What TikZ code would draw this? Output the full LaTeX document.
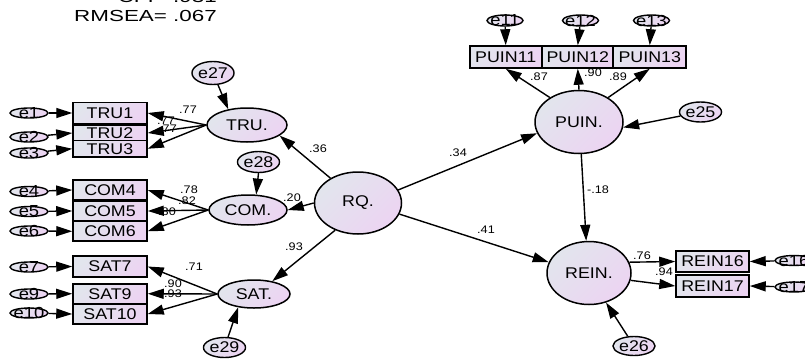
\documentclass[tikz,border=0pt]{standalone}
\usepackage{fontspec}
\setmainfont{Liberation Sans}[FakeStretch=1.15]
\newfontfamily\fitfont{Liberation Sans}[FakeStretch=1.4]
\usetikzlibrary{shapes.geometric,arrows.meta}
\definecolor{shadeA}{RGB}{226,229,237}
\definecolor{shadeB}{RGB}{236,212,242}

\begin{document}
\begin{tikzpicture}[x=1pt,y=-1pt,
  lav/.style={left color=shadeA, right color=shadeB, shading angle=45},
  lat/.style={ellipse, draw, line width=1.5, lav, inner sep=0,
              font=\fontsize{15.5}{17}\selectfont},
  obs/.style={rectangle, draw, line width=1.5, lav, inner sep=0,
              minimum width=74, font=\fontsize{15.5}{17}\selectfont},
  errL/.style={ellipse, draw, line width=1.4, lav, inner sep=0,
              font=\fontsize{15.5}{17}\selectfont},
  errS/.style={ellipse, draw, line width=1.4, lav, inner sep=0,
              minimum width=38, minimum height=10},
  elab/.style={font=\fontsize{16}{18}\selectfont, inner sep=0},
  arr/.style={line width=1.4, -{Triangle[length=16pt,width=10pt]}},
  coef/.style={font=\fontsize{11}{12}\selectfont, inner sep=0},
  idx/.style={font=\fitfont\fontsize{16}{18}\selectfont, inner sep=0, anchor=base east}
]
\useasboundingbox (0,0) rectangle (805,359);
\clip (0,0) rectangle (805,359);

% fit indices
\node[idx] (cfi) at (217,2.5) {CFI= .931};
\node[idx] (rmsea) at (217,21.5) {RMSEA= .067};

% latent variables
\node[lat, minimum width=80, minimum height=34] (TRU) at (247,125) {TRU.};
\node[lat, minimum width=78, minimum height=30] (COM) at (248,210) {COM.};
\node[lat, minimum width=72, minimum height=28] (SAT) at (254,294) {SAT.};
\node[lat, minimum width=87, minimum height=62] (RQ) at (358,203) {RQ.};
\node[lat, minimum width=88, minimum height=63] (PUIN) at (579,122) {PUIN.};
\node[lat, minimum width=84, minimum height=63] (REIN) at (589,273) {REIN.};

% observed indicators
\node[obs, minimum height=21] (t1) at (110,113) {TRU1};
\node[obs, minimum height=16] (t2) at (110,133) {TRU2};
\node[obs, minimum height=16.5] (t3) at (110,148.75) {TRU3};
\node[obs, minimum height=20] (c4) at (110,190) {COM4};
\node[obs, minimum height=19] (c5) at (110,211) {COM5};
\node[obs, minimum height=19.5] (c6) at (110,231.25) {COM6};
\node[obs, minimum height=21] (s7) at (110,266.5) {SAT7};
\node[obs, minimum height=19.5] (s9) at (110,293.75) {SAT9};
\node[obs, minimum height=20] (s10) at (110,314) {SAT10};
\node[obs, minimum width=71.5, minimum height=22] (p11) at (505.75,57) {PUIN11};
\node[obs, minimum width=70.5, minimum height=22] (p12) at (577.75,57) {PUIN12};
\node[obs, minimum width=72.5, minimum height=22] (p13) at (649.75,57) {PUIN13};
\node[obs, minimum width=73, minimum height=21] (r16) at (712.5,261.5) {REIN16};
\node[obs, minimum width=73, minimum height=22] (r17) at (712.5,286) {REIN17};

% measurement errors
\node[errS, label={[elab]center:e1}] (e1) at (29,113) {};
\node[errS, label={[elab]center:e2}] (e2) at (29,137) {};
\node[errS, label={[elab]center:e3}] (e3) at (29,153) {};
\node[errS, label={[elab]center:e4}] (e4) at (29,191.5) {};
\node[errS, label={[elab]center:e5}] (e5) at (29,211.5) {};
\node[errS, label={[elab]center:e6}] (e6) at (29,231) {};
\node[errS, label={[elab]center:e7}] (e7) at (29,267) {};
\node[errS, label={[elab]center:e9}] (e9) at (29,294) {};
\node[errS, label={[elab]center:e10}] (e10) at (29,313) {};
\node[errS, minimum width=36, minimum height=11, label={[elab]center:e11}] (e11) at (505,20.5) {};
\node[errS, minimum width=36, minimum height=11, label={[elab]center:e12}] (e12) at (580.5,20.5) {};
\node[errS, minimum width=36, minimum height=11, label={[elab]center:e13}] (e13) at (651.5,20.5) {};
\node[errS, label={[elab]center:e16}] (e16) at (794,260.5) {};
\node[errS, label={[elab]center:e17}] (e17) at (794,287) {};

% disturbances
\node[errL, minimum width=34, minimum height=23] (e27) at (213,73) {e27};
\node[errL, minimum width=34, minimum height=21] (e28) at (258.5,162) {e28};
\node[errL, minimum width=35, minimum height=20] (e29) at (224.5,347.5) {e29};
\node[errL, minimum width=33, minimum height=20] (e25) at (700.5,112) {e25};
\node[errL, minimum width=34, minimum height=19] (e26) at (634,346) {e26};

% error paths
\foreach \e/\o in {e1/t1,e2/t2,e3/t3,e4/c4,e5/c5,e6/c6,e7/s7,e9/s9,e10/s10}
  \draw[arr] (\e) -- (\o.west);
\foreach \e/\o in {e11/p11,e12/p12,e13/p13}
  \draw[arr] (\e) -- (\o.north);
\draw[arr] (e16) -- (r16.east);
\draw[arr] (e17) -- (r17.east);
\draw[arr] (e27) -- (TRU.140);
\draw[arr] (e28.south) -- (COM.62);
\draw[arr] (e29) -- (SAT.-140);
\draw[arr] (e25) -- (PUIN.-7);
\draw[arr] (e26) -- (REIN.-60);

% loadings
\foreach \o in {t1,t2,t3} \draw[arr] (TRU.west) -- (\o.east);
\foreach \o in {c4,c5,c6} \draw[arr] (COM.west) -- (\o.east);
\foreach \o in {s7,s9,s10} \draw[arr] (SAT.west) -- (\o.east);
\draw[arr] (PUIN.140) -- (p11.south);
\draw[arr] (PUIN.north) -- (p12.south);
\draw[arr] (PUIN.40) -- (p13.south);
\draw[arr] (REIN.15) -- (r16.west);
\draw[arr] (REIN.-10) -- (r17.west);

% structural paths
\draw[arr] (RQ.138) -- (TRU.-18);
\draw[arr] (RQ.west) -- (COM.east);
\draw[arr] (RQ.-130) -- (SAT.35);
\draw[arr] (RQ.18) -- (PUIN.195);
\draw[arr] (RQ.-15) -- (REIN.165);
\draw[arr] (PUIN.-86) -- (REIN.95);

% estimates
\node[coef] (l1) at (188,110) {.77};
\node[coef] (l2) at (166,121) {.77};
\node[coef] (l3) at (168,129) {.77};
\node[coef] (l4) at (189,190) {.78};
\node[coef] (l5) at (187,201) {.82};
\node[coef] (l6) at (167,212) {.80};
\node[coef] (l7) at (194,267) {.71};
\node[coef] (l9) at (173,284) {.90};
\node[coef] (l10) at (173,294) {.93};
\node[coef] (l11) at (539,77) {.87};
\node[coef] (l12) at (593,73) {.90};
\node[coef] (l13) at (618,77) {.89};
\node[coef] (l16) at (642,256) {.76};
\node[coef] (l17) at (664,272) {.94};
\node[coef] (bTRU) at (318,149) {.36};
\node[coef] (bCOM) at (292,198) {.20};
\node[coef] (bSAT) at (294,247) {.93};
\node[coef] (bPUIN) at (458,153) {.34};
\node[coef] (bREIN) at (486,230) {.41};
\node[coef] (bPR) at (598,190) {-.18};
\end{tikzpicture}
\end{document}
